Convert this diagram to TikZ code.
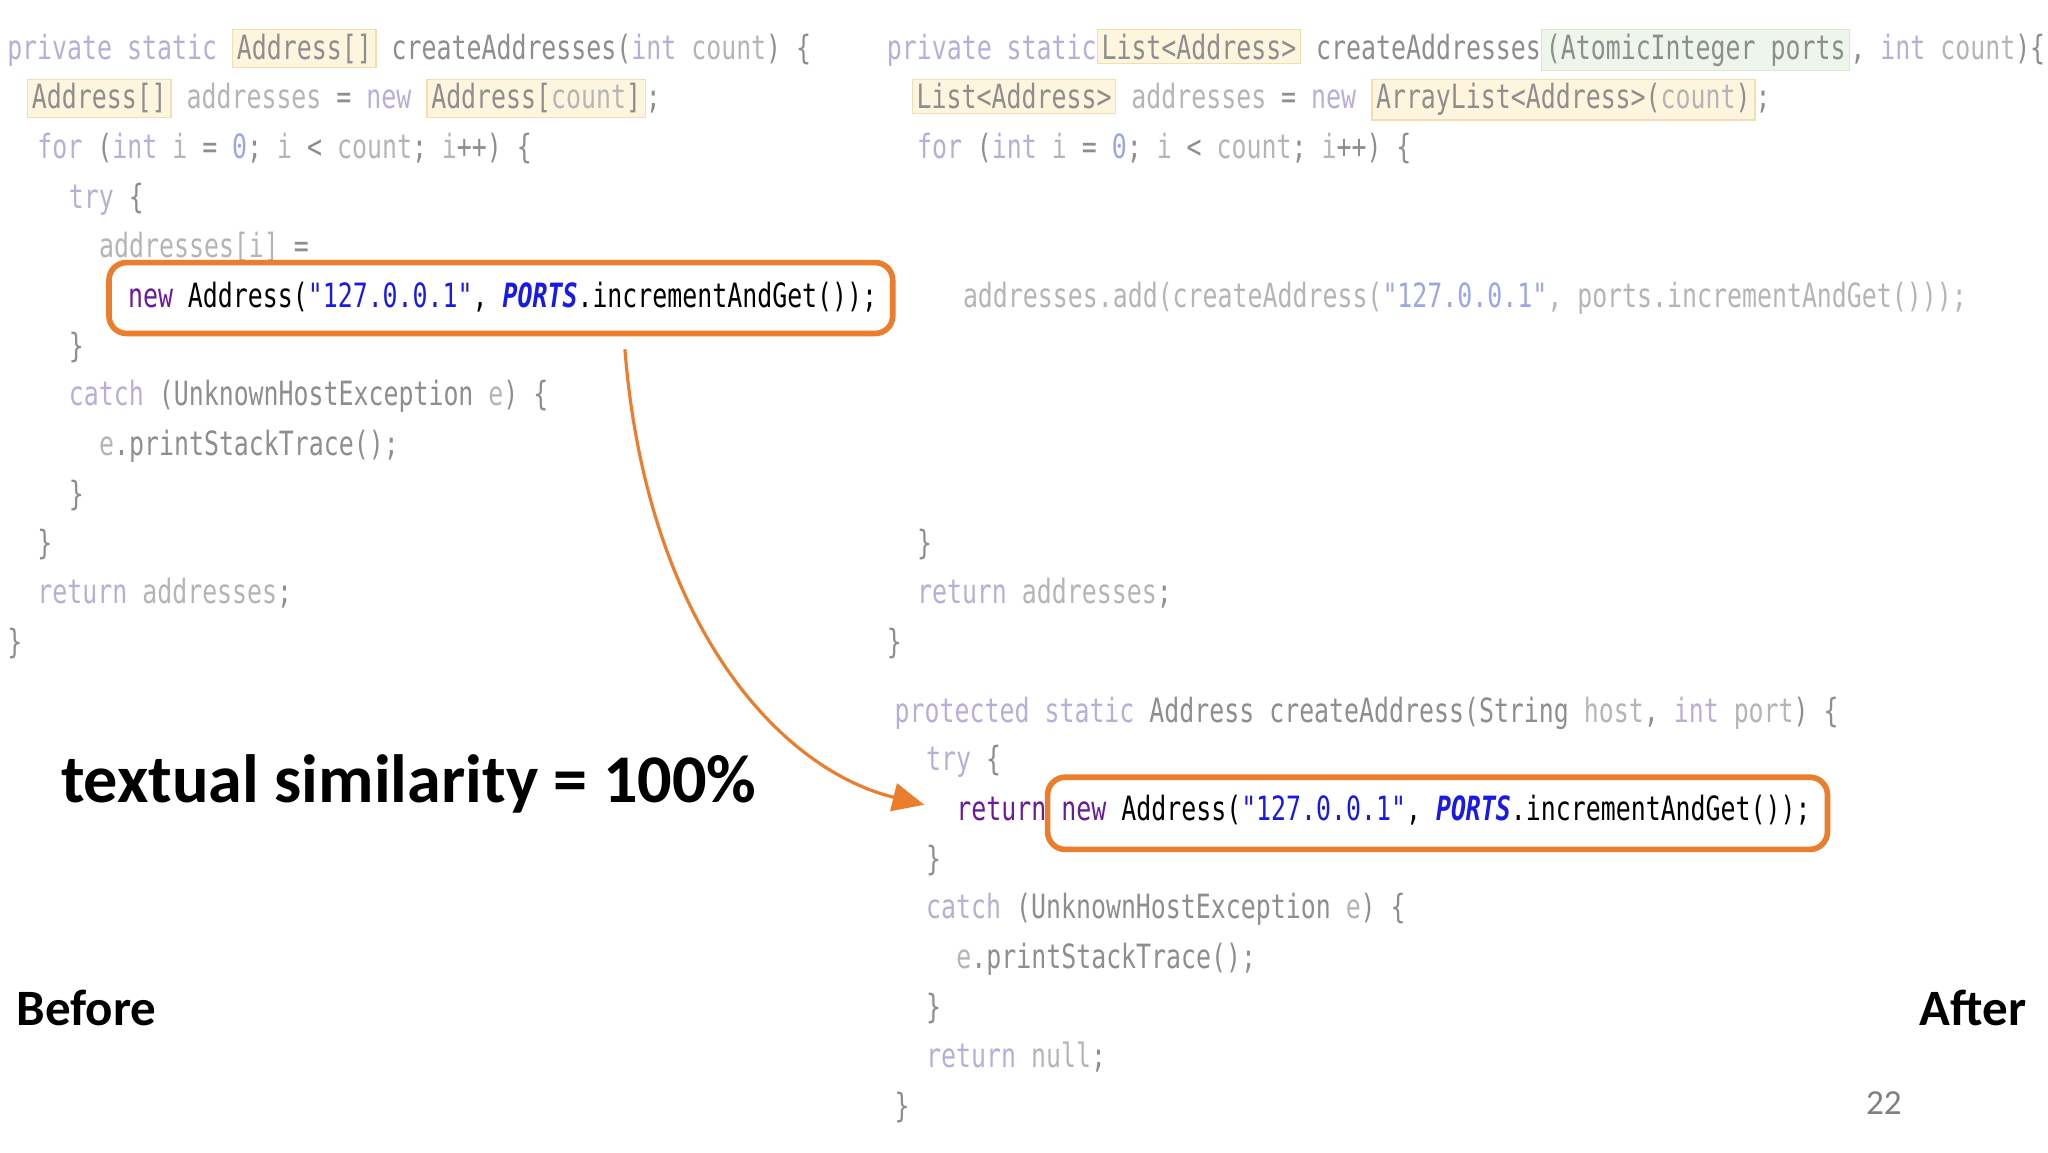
\documentclass[tikz,border=0pt]{standalone}
\usepackage{fontspec}
\setmainfont{Carlito}
\newfontfamily\cfont[FakeStretch=0.745]{DejaVu Sans Mono}
\usetikzlibrary{arrows.meta}
\definecolor{kw}{HTML}{B9AED6}
\definecolor{idc}{HTML}{B5B5B5}
\definecolor{pl}{HTML}{8E8E8E}
\definecolor{numc}{HTML}{9CA6E2}
\definecolor{hy}{HTML}{FDF5DE}
\definecolor{hyb}{HTML}{F0DFB0}
\definecolor{hg}{HTML}{EEF5EA}
\definecolor{hgb}{HTML}{D8E8D0}
\definecolor{org}{HTML}{EB7D2C}
\definecolor{dpur}{HTML}{6A1B9A}
\definecolor{dblue}{HTML}{1A1AE6}
\newcommand{\K}[1]{\textcolor{kw}{#1}}
\newcommand{\I}[1]{\textcolor{idc}{#1}}
\newcommand{\Pl}[1]{\textcolor{pl}{#1}}
\newcommand{\N}[1]{\textcolor{numc}{#1}}
\newcommand{\HY}[1]{{\setlength{\fboxsep}{1pt}\setlength{\fboxrule}{0.4pt}\fcolorbox{hyb}{hy}{#1}}}
\newcommand{\HG}[1]{{\setlength{\fboxsep}{1pt}\setlength{\fboxrule}{0.4pt}\fcolorbox{hgb}{hg}{#1}}}
\newcommand{\Hot}{\textcolor{dpur}{new} Address(\textcolor{dblue}{"127.0.0.1"}, \textcolor{dblue}{\textbf{\textit{PORTS}}}.incrementAndGet());}
\begin{document}
\begin{tikzpicture}[x=0.013128cm,y=-0.013128cm,
  code/.style={anchor=base west,inner sep=0pt,font=\cfont\fontsize{9.5}{11}\selectfont,text=pl},
  hot/.style={draw=org,line width=1.6pt,rounded corners=5pt,inner sep=0pt},
  big/.style={anchor=base west,inner sep=0pt,font=\bfseries}]
\useasboundingbox[fill=white] (0,0) rectangle (1560,877.5);
% left column
\node[code] (l1) at (5,45) {\K{private} \K{static} \HY{Address[]} createAddresses(\K{int} \I{count}) \{};
\node[code] (l2) at (20,83) {\HY{Address[]} \I{addresses} = \K{new} \HY{Address[\I{count}]};};
\node[code] (l3) at (28,121) {\K{for} (\K{int} \I{i} = \N{0}; \I{i} < \I{count}; \I{i}++) \{};
\node[code] (l4) at (52,159) {\K{try} \{};
\node[code] (l5) at (75,196) {\I{addresses[i]} =};
\draw[hot] (83,200) rectangle (680,254);
\node[code,text=black] (l6) at (97,234) {\Hot};
\node[code] (l7) at (52,272) {\}};
\node[code] (l8) at (52,309) {\K{catch} (UnknownHostException \I{e}) \{};
\node[code] (l9) at (75,347) {\I{e}.printStackTrace();};
\node[code] (l10) at (52,385) {\}};
\node[code] (l11) at (28,422) {\}};
\node[code] (l12) at (28,460) {\K{return} \I{addresses};};
\node[code] (l13) at (5,498) {\}};
% right column
\node[code] (r1) at (675,45) {\K{private} \K{static}\HY{List<Address>} createAddresses\HG{(AtomicInteger ports}, \K{int} \I{count})\{};
\node[code] (r2) at (694,83) {\HY{List<Address>} \I{addresses} = \K{new} \HY{ArrayList<Address>(\I{count})};};
\node[code] (r3) at (698,121) {\K{for} (\K{int} \I{i} = \N{0}; \I{i} < \I{count}; \I{i}++) \{};
\node[code,text=idc] (r4) at (733,234) {addresses.add(createAddress(\N{"127.0.0.1"}, ports.incrementAndGet()));};
\node[code] (r5) at (698,422) {\}};
\node[code] (r6) at (698,460) {\K{return} \I{addresses};};
\node[code] (r7) at (675,498) {\}};
\node[code] (r8) at (681,550) {\K{protected} \K{static} Address createAddress(String \I{host}, \K{int} \I{port}) \{};
\node[code] (r9) at (705,587) {\K{try} \{};
\node[code,text=black] (r10) at (728,625) {\textcolor{dpur}{return}};
\draw[hot] (798,592) rectangle (1392,647);
\node[code,text=black] (r11) at (808,625) {\Hot};
\node[code] (r12) at (705,663) {\}};
\node[code] (r13) at (705,700) {\K{catch} (UnknownHostException \I{e}) \{};
\node[code] (r14) at (728,738) {\I{e}.printStackTrace();};
\node[code] (r15) at (705,776) {\}};
\node[code] (r16) at (705,813) {\K{return} \I{null};};
\node[code] (r17) at (681,851) {\}};
% labels
\node[big,font=\bfseries\fontsize{19.4}{24}\selectfont] (sim) at (46,611) {textual similarity = 100\%};
\node[big,font=\bfseries\fontsize{14.5}{18}\selectfont] (before) at (12,781) {Before};
\node[big,font=\bfseries\fontsize{14.5}{18}\selectfont,anchor=base east] (after) at (1544,781) {After};
\node[anchor=base,inner sep=0pt,text=gray,font=\fontsize{10}{12}\selectfont] (pg) at (1435,849) {22};
% arrow
\coordinate (a0) at (476,266);
\coordinate (a1) at (704,613);
\draw[org,line width=0.9pt,-{Triangle[length=9pt,width=8pt]}] (a0) .. controls (492,470) and (590,585) .. (a1);
\end{tikzpicture}
\end{document}
